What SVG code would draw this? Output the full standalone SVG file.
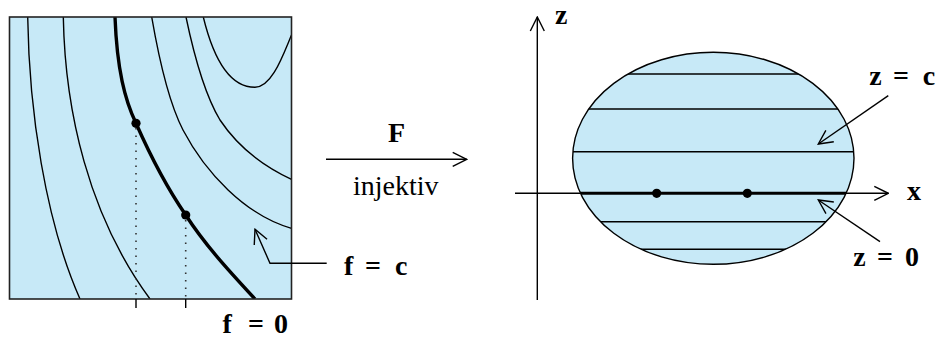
<svg xmlns="http://www.w3.org/2000/svg" width="938" height="338" viewBox="0 0 938 338">
<defs>
<marker id="ah" viewBox="0 0 16 16" refX="15" refY="8" markerWidth="16" markerHeight="16" markerUnits="userSpaceOnUse" orient="auto">
<path d="M1,1 L15,8 L1,15" fill="none" stroke="#000" stroke-width="1.4"/>
</marker>
<clipPath id="sq"><rect x="9.5" y="17" width="282" height="282"/></clipPath>
<clipPath id="el"><ellipse cx="713.3" cy="158.3" rx="140.7" ry="106"/></clipPath>
</defs>

<g id="level-sets">
<rect fill="#c7e9f7" x="9.5" y="17" width="282" height="282"/>
<g clip-path="url(#sq)" fill="none" stroke="#000" stroke-width="1.4">
<path d="M27.7,17 C29,110 45,220 80,299"/>
<path d="M63.3,17 C65,110 88,215 150,299"/>
<path stroke-width="3.4" d="M115,17 C117,70 125,100 136,123.3 C150,155 165,185 185.7,215 C205,245 230,272 255,299"/>
<path d="M151.7,17 C160,65 170,105 183,130 C205,172 245,215 291.5,228.3"/>
<path d="M186,17 C195,60 205,95 220,120 C240,150 265,167 291.5,179.3"/>
<path d="M203.3,17 C215,65 232,87.3 255,87.3 C272,87.3 283,55 291.5,35"/>
</g>
<rect x="9.5" y="17" width="282" height="282" fill="none" stroke="#222" stroke-width="1.6"/>
<g stroke="#333" stroke-width="1.6" stroke-dasharray="1.4 6.1">
<line x1="136" y1="128" x2="136" y2="299"/>
<line x1="185.7" y1="220" x2="185.7" y2="299"/>
</g>
<g stroke="#000" stroke-width="1.4">
<line x1="136" y1="299" x2="136" y2="308"/>
<line x1="185.7" y1="299" x2="185.7" y2="308"/>
</g>
<circle fill="#000" cx="136" cy="123.3" r="4.6"/>
<circle fill="#000" cx="185.7" cy="215" r="4.6"/>
</g>

<g id="label-f0">
<text font-family="Liberation Serif" font-weight="bold" font-size="28" x="222.5" y="333">f<tspan x="248">=</tspan><tspan x="274">0</tspan></text>
</g>

<g id="label-fc">
<text font-family="Liberation Serif" font-weight="bold" font-size="28" x="344" y="275">f<tspan x="365">=</tspan><tspan x="395">c</tspan></text>
</g>

<g id="map-label">
<text font-family="Liberation Serif" font-weight="bold" font-size="28" x="396.5" y="141.7" text-anchor="middle">F</text>
<text font-family="Liberation Serif" font-size="28" x="395.8" y="195" text-anchor="middle">injektiv</text>
</g>

<g id="image-region">
<ellipse fill="#c7e9f7" cx="713.3" cy="158.3" rx="140.7" ry="106"/>
<g clip-path="url(#el)" stroke="#000" stroke-width="1.4">
<line x1="560" y1="74" x2="870" y2="74"/>
<line x1="560" y1="109" x2="870" y2="109"/>
<line x1="560" y1="151.7" x2="870" y2="151.7"/>
<line x1="560" y1="221.7" x2="870" y2="221.7"/>
<line x1="560" y1="249.3" x2="870" y2="249.3"/>
</g>
<ellipse cx="713.3" cy="158.3" rx="140.7" ry="106" fill="none" stroke="#000" stroke-width="1.4"/>
</g>

<g id="axes">
<g stroke="#000" stroke-width="1.4" fill="none">
<line x1="515" y1="193.3" x2="888.3" y2="193.3" marker-end="url(#ah)"/>
<line x1="537.3" y1="300" x2="537.3" y2="17" marker-end="url(#ah)"/>
</g>
<text font-family="Liberation Serif" font-weight="bold" font-size="28" x="555" y="24">z</text>
<text font-family="Liberation Serif" font-weight="bold" font-size="28" x="907" y="200">x</text>
</g>

<g id="zero-line">
<g clip-path="url(#el)">
<line x1="560" y1="193.3" x2="870" y2="193.3" stroke="#000" stroke-width="3"/>
</g>
<circle fill="#000" cx="656.7" cy="193.3" r="4.6"/>
<circle fill="#000" cx="747.3" cy="193.3" r="4.6"/>
</g>

<g id="label-zc">
<text font-family="Liberation Serif" font-weight="bold" font-size="28" x="869.3" y="85">z<tspan x="893">=</tspan><tspan x="922.7">c</tspan></text>
</g>

<g id="label-z0">
<text font-family="Liberation Serif" font-weight="bold" font-size="28" x="853.3" y="266">z<tspan x="877">=</tspan><tspan x="905">0</tspan></text>
</g>

<g id="connectors" fill="none" stroke="#000" stroke-width="1.4">
<line x1="326" y1="159.3" x2="466.7" y2="159.3" marker-end="url(#ah)"/>
<polyline points="326.7,263.3 270,263.3 255,229.3" marker-end="url(#ah)"/>
<line x1="888.3" y1="95.7" x2="818.3" y2="144" marker-end="url(#ah)"/>
<line x1="880" y1="241.7" x2="818.3" y2="200" marker-end="url(#ah)"/>
</g>
</svg>
